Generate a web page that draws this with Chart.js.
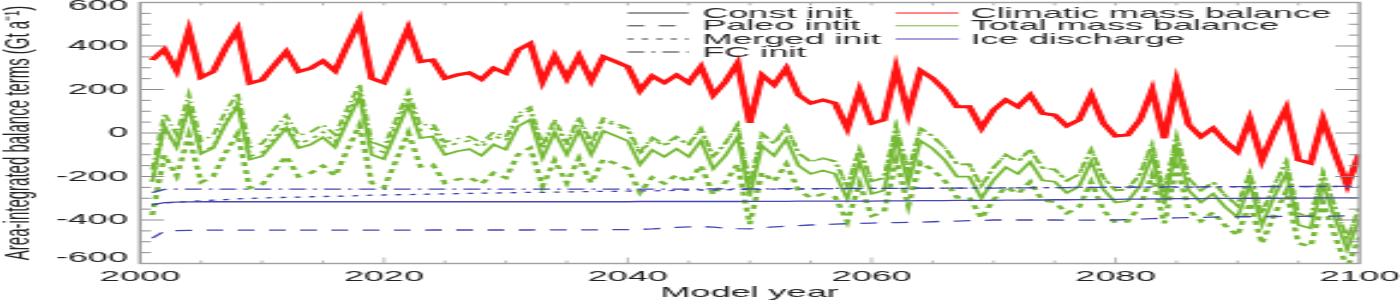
<!DOCTYPE html>
<html>
<head>
<meta charset="utf-8">
<script src="https://cdn.jsdelivr.net/npm/chart.js@4.4.1/dist/chart.umd.min.js"></script>
<style>
  html, body { margin: 0; padding: 0; background: #fff; overflow: hidden; }
</style>
</head>
<body>
<!-- the original figure is stretched sideways, so the canvas is drawn narrow and widened by css -->
<canvas id="chart" width="583" height="302" style="display:block;width:1400px;height:302px"></canvas>
<script>
const firstYear = 2001;
const years = Array.from({ length: 100 }, (_, i) => firstYear + i);

// climatic mass balance, Gt/a (nearly identical for all four initialisations)
const cmb = [
  336, 385, 287, 471, 256, 282, 390, 477, 229, 244,
  310, 374, 282, 298, 331, 285, 405, 517, 251, 231,
  356, 482, 328, 336, 251, 267, 277, 247, 298, 275,
  382, 412, 236, 354, 251, 354, 241, 351, 328, 305,
  195, 262, 231, 267, 231, 305, 175, 236, 321, 47,
  267, 221, 298, 175, 137, 152, 137, 22, 195, 45,
  60, 298, 90, 287, 251, 198, 121, 121, 22, 106,
  152, 121, 175, 90, 83, 32, 60, 175, 45, -14,
  -9, 60, 198, -24, 236, 37, -17, 22, -40, -86,
  63, -124, 6, 114, -124, -139, 63, -94, -239, -97
];

// ice discharge per initialisation, Gt/a
const constDischarge = [
  -330, -320, -318, -317, -316, -316, -316, -316, -316, -316,
  -316, -316, -316, -316, -316, -316, -316, -316, -316, -316,
  -316, -316, -316, -316, -316, -316, -316, -316, -316, -316,
  -316, -316, -316, -316, -316, -316, -316, -316, -316, -316,
  -315, -315, -315, -315, -315, -315, -315, -315, -315, -314,
  -314, -314, -314, -313, -313, -313, -313, -313, -313, -313,
  -312, -312, -312, -311, -311, -311, -310, -310, -310, -310,
  -309, -309, -308, -308, -307, -307, -306, -306, -305, -305,
  -304, -304, -303, -303, -302, -302, -302, -301, -301, -301,
  -300, -300, -300, -299, -299, -299, -298, -298, -298, -298
];
const paleoDischarge = [
  -483, -452, -449, -448, -447, -447, -447, -447, -447, -447,
  -447, -447, -447, -447, -447, -447, -447, -447, -447, -447,
  -447, -447, -447, -446, -446, -446, -446, -446, -446, -446,
  -446, -446, -445, -445, -445, -445, -445, -445, -444, -444,
  -443, -441, -438, -434, -432, -430, -433, -437, -440, -441,
  -436, -432, -429, -426, -423, -421, -419, -417, -416, -414,
  -413, -412, -411, -410, -408, -406, -405, -403, -402, -400,
  -400, -400, -400, -400, -400, -401, -401, -401, -400, -400,
  -398, -396, -394, -392, -390, -389, -388, -387, -386, -385,
  -385, -384, -384, -383, -383, -382, -382, -382, -381, -381
];
const mergedDischarge = [
  -330, -322, -318, -315, -312, -309, -306, -303, -301, -299,
  -297, -296, -295, -293, -292, -291, -290, -288, -286, -285,
  -284, -283, -282, -281, -280, -279, -278, -277, -276, -275,
  -274, -273, -273, -272, -271, -270, -269, -268, -268, -267,
  -266, -266, -265, -264, -263, -262, -262, -261, -260, -259,
  -259, -258, -258, -258, -257, -257, -256, -256, -256, -255,
  -255, -255, -254, -254, -254, -253, -253, -253, -252, -252,
  -252, -252, -251, -251, -251, -251, -250, -250, -250, -250,
  -250, -249, -249, -249, -249, -249, -248, -248, -248, -248,
  -248, -247, -247, -247, -247, -246, -246, -246, -246, -246
];
const fcDischarge = [
  -274, -259, -258, -258, -258, -258, -258, -258, -258, -258,
  -258, -258, -258, -258, -258, -258, -258, -258, -258, -258,
  -258, -258, -258, -258, -258, -258, -258, -258, -258, -258,
  -258, -258, -258, -258, -258, -258, -258, -258, -258, -258,
  -258, -258, -258, -258, -258, -258, -257, -257, -257, -257,
  -257, -257, -256, -256, -256, -256, -255, -255, -255, -255,
  -255, -255, -254, -254, -254, -254, -253, -253, -253, -253,
  -252, -252, -252, -251, -251, -251, -250, -250, -250, -250,
  -249, -249, -249, -248, -248, -248, -248, -247, -247, -247,
  -247, -247, -246, -246, -246, -246, -245, -245, -245, -244
];

// remaining terms of the total balance (total - cmb - discharge)
const otherTerms = [
  -230, -35, -35, -35, -35, -35, -35, -35, -35, -35,
  -35, -35, -35, -35, -35, -35, -35, -35, -35, -35,
  -35, -35, -35, -35, -35, -35, -35, -35, -35, -35,
  -35, -35, -35, -35, -35, -25, -25, -25, -25, -25,
  -25, -25, -25, -25, -25, -25, -25, -25, -25, -25,
  -12, -12, -12, -12, -12, -12, -12, -12, -12, -12,
  -12, -12, -12, -12, -12, -12, -12, -12, -12, -12,
  0, 0, 0, 0, 0, 0, 0, 0, 0, 0,
  0, 0, 0, 0, 0, 0, 0, 0, 0, 0,
  0, 0, 0, 0, 0, 0, 0, 0, 0, 0
];

const initNames = ['Const init', 'Paleo intit', 'Merged init', 'FC init'];
const termNames = ['Climatic mass balance', 'Total mass balance', 'Ice discharge'];
const dischargeByInit = [constDischarge, paleoDischarge, mergedDischarge, fcDischarge];
const xTickLabels = [2000, 2020, 2040, 2060, 2080, 2100];
const yTickLabels = [600, 400, 200, 0, -200, -400, -600];

const initDash = [[], [7, 6], [2.5, 3.5], [7, 3, 1.5, 3]];
const termColors = ['#ff1414', '#74b934', '#4646b2'];
const fontFamily = '"Liberation Sans", Arial, sans-serif';

function points(values) {
    return years.map((yr, i) => ({ x: yr, y: values[i] }));
}

function buildDatasets() {
    const blue = dischargeByInit.map((d, k) => ({
        data: points(d),
        borderColor: termColors[2],
        borderWidth: 1.3,
        borderDash: initDash[k],
    }));
    const red = dischargeByInit.map((d, k) => ({
        data: points(cmb),
        borderColor: termColors[0],
        borderWidth: k === 0 ? 3 : 2,
        borderDash: initDash[k],
    }));
    const green = dischargeByInit.map((d, k) => ({
        data: points(cmb.map((c, i) => c + d[i] + otherTerms[i])),
        borderColor: termColors[1],
        borderWidth: k === 1 ? 2.4 : 1.7,
        borderDash: k === 1 ? [4, 4] : initDash[k],
    }));
    return blue.concat(red, green).map(ds => Object.assign(ds, {
        pointRadius: 0,
        tension: 0,
        fill: false,
    }));
}

// inner tick marks and grey frame, like the original plot
const frameTicks = {
    id: 'frameTicks',
    afterDatasetsDraw(chart) {
        const { ctx, chartArea: a, scales: { x, y } } = chart;
        ctx.save();
        ctx.strokeStyle = '#8c8c8c';
        ctx.lineWidth = 1;
        ctx.beginPath();
        for (let v = -550; v <= 550; v += 50) {
            const py = y.getPixelForValue(v);
            const len = v % 200 === 0 ? 10 : 4.5;
            ctx.moveTo(a.left, py); ctx.lineTo(a.left + len, py);
            ctx.moveTo(a.right, py); ctx.lineTo(a.right - len, py);
        }
        ctx.stroke();
        ctx.lineWidth = 0.6;
        ctx.beginPath();
        for (let yr = 2005; yr < 2100; yr += 5) {
            const px = x.getPixelForValue(yr);
            const len = yr % 20 === 0 ? 6 : 3;
            ctx.moveTo(px, a.bottom); ctx.lineTo(px, a.bottom - len);
            ctx.moveTo(px, a.top); ctx.lineTo(px, a.top + 3);
        }
        ctx.stroke();
        ctx.strokeStyle = '#a0a0a0';
        ctx.lineWidth = 1.4;
        ctx.strokeRect(a.left, a.top, a.right - a.left, a.bottom - a.top);
        ctx.restore();
    },
};

// two-column key: line style per initialisation, colour per term
const boxLegend = {
    id: 'boxLegend',
    afterDraw(chart) {
        const ctx = chart.ctx;
        const rows = [13, 25.8, 39, 52];
        ctx.save();
        ctx.font = '15px ' + fontFamily;
        ctx.textBaseline = 'middle';
        initNames.forEach((name, i) => {
            ctx.strokeStyle = '#333';
            ctx.lineWidth = 1;
            ctx.setLineDash(initDash[i]);
            ctx.beginPath();
            ctx.moveTo(261.3, rows[i]);
            ctx.lineTo(286.7, rows[i]);
            ctx.stroke();
            ctx.fillStyle = '#2a2a2a';
            ctx.fillText(name, 292.4, rows[i] + 0.5);
        });
        ctx.setLineDash([]);
        termNames.forEach((name, i) => {
            ctx.strokeStyle = termColors[i];
            ctx.lineWidth = 1;
            ctx.beginPath();
            ctx.moveTo(372.9, rows[i]);
            ctx.lineTo(399.2, rows[i]);
            ctx.stroke();
            ctx.fillStyle = '#2a2a2a';
            ctx.fillText(name, 404.2, rows[i] + 0.5);
        });
        ctx.restore();
    },
};

Chart.defaults.font.family = fontFamily;
Chart.defaults.font.size = 15;
Chart.defaults.color = '#222';

const canvas = document.getElementById('chart');
new Chart(canvas, {
    type: 'line',
    data: { datasets: buildDatasets() },
    options: {
        responsive: false,
        devicePixelRatio: 1,
        animation: false,
        layout: { padding: { top: 2.5, right: 16.9, bottom: 0, left: 0 } },
        plugins: {
            legend: { display: false },
            tooltip: { enabled: false },
        },
        scales: {
            x: {
                type: 'linear',
                min: 2000,
                max: 2100,
                grid: { display: false, drawTicks: false },
                border: { display: false },
                afterBuildTicks: scale => {
                    scale.ticks = xTickLabels.map(v => ({ value: v }));
                },
                afterFit: scale => {
                    scale.height = 38.5;
                    scale.paddingLeft = 0;
                    scale.paddingRight = 0;
                },
                ticks: {
                    maxRotation: 0,
                    autoSkip: false,
                    padding: 4.5,
                    callback: (v, i) => String(xTickLabels[i]),
                },
                title: {
                    display: true,
                    text: 'Model year',
                    padding: 0,
                    font: { size: 15, lineHeight: 1.2 },
                },
            },
            y: {
                min: -600,
                max: 600,
                grid: { display: false, drawTicks: false },
                border: { display: false },
                // end labels sit a little inside the frame in the original
                afterBuildTicks: scale => {
                    scale.ticks = yTickLabels.map(v => ({ value: v === 600 ? 583 : v === -600 ? -576 : v }));
                },
                afterFit: scale => {
                    scale.width = 58.3;
                    scale.paddingTop = 0;
                    scale.paddingBottom = 0;
                },
                ticks: {
                    autoSkip: false,
                    padding: 5,
                    callback: (v, i) => String(yTickLabels[i]),
                },
                title: {
                    display: true,
                    text: 'Area-integrated balance terms (Gt a\u207B\u00B9)',
                    padding: 0,
                    font: { size: 15, lineHeight: 1 },
                },
            },
        },
    },
    plugins: [frameTicks, boxLegend],
});
canvas.style.width = '1400px';
canvas.style.height = '302px';
</script>
</body>
</html>
